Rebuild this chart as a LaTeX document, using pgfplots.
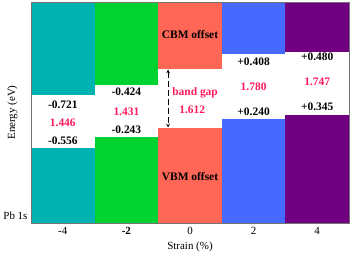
\documentclass[border=0pt]{standalone}
\usepackage{fontspec}
\setmainfont{Liberation Serif}
\usepackage{pgfplots}
\pgfplotsset{compat=1.18}
\definecolor{cA}{RGB}{0,178,178}
\definecolor{cB}{RGB}{0,210,50}
\definecolor{cC}{RGB}{255,102,85}
\definecolor{cD}{RGB}{70,105,255}
\definecolor{cE}{RGB}{112,0,128}
\definecolor{cR}{RGB}{255,25,90}
\begin{document}
\begin{tikzpicture}
\begin{axis}[
  scale only axis, width=318bp, height=221bp,
  xmin=-5, xmax=5, ymin=0, ymax=221,
  axis line style={black!55, line width=0.8pt},
  xtick={-4,-2,0,2,4},
  xticklabels={-4,\textbf{-2},0,2,4},
  ytick={7}, yticklabels={Pb 1s},
  major tick length=0pt,
  tick label style={font=\fontsize{11}{12}\selectfont},
  xticklabel style={yshift=-1bp},
  xlabel={Strain (\%)}, ylabel={Energy (eV)},
  label style={font=\fontsize{11}{12}\selectfont},
  xlabel style={at={(axis description cs:0.5,-0.11)}, anchor=center},
  ylabel style={at={(axis description cs:-0.058,0.5)}, anchor=center},
  clip=false,
]
% lower (VBM) bars
\addplot[draw=none, fill=cA] coordinates {(-5,0) (-3,0) (-3,75) (-5,75)} -- cycle;
\addplot[draw=none, fill=cB] coordinates {(-3,0) (-1,0) (-1,86) (-3,86)} -- cycle;
\addplot[draw=none, fill=cC] coordinates {(-1,0) (1,0) (1,95) (-1,95)} -- cycle;
\addplot[draw=none, fill=cD] coordinates {(1,0) (3,0) (3,104) (1,104)} -- cycle;
\addplot[draw=none, fill=cE] coordinates {(3,0) (5,0) (5,108) (3,108)} -- cycle;
% upper (CBM) bars
\addplot[draw=none, fill=cA] coordinates {(-5,221) (-3,221) (-3,128) (-5,128)} -- cycle;
\addplot[draw=none, fill=cB] coordinates {(-3,221) (-1,221) (-1,138) (-3,138)} -- cycle;
\addplot[draw=none, fill=cC] coordinates {(-1,221) (1,221) (1,154) (-1,154)} -- cycle;
\addplot[draw=none, fill=cD] coordinates {(1,221) (3,221) (3,169) (1,169)} -- cycle;
\addplot[draw=none, fill=cE] coordinates {(3,221) (5,221) (5,171) (3,171)} -- cycle;
% labels
\begin{scope}[every node/.style={font=\fontsize{11.5}{12}\selectfont\bfseries}]
\node at (axis cs:-4,118) {-0.721};
\node[text=cR] at (axis cs:-4,100) {1.446};
\node at (axis cs:-4,82) {-0.556};
\node at (axis cs:-2,131) {-0.424};
\node[text=cR] at (axis cs:-2,111) {1.431};
\node at (axis cs:-2,93) {-0.243};
\node at (axis cs:0,188) {CBM offset};
\node at (axis cs:0,46) {VBM offset};
\node[text=cR] at (axis cs:0.16,130) {band gap};
\node[text=cR] at (axis cs:0.07,113) {1.612};
\node at (axis cs:2,161) {+0.408};
\node[text=cR] at (axis cs:2,136) {1.780};
\node at (axis cs:2,111) {+0.240};
\node at (axis cs:4,166) {+0.480};
\node[text=cR] at (axis cs:4,141) {1.747};
\node at (axis cs:4,116) {+0.345};
\end{scope}
\draw[<->, >=stealth, dash pattern=on 6pt off 3pt, line width=0.7pt] (axis cs:-0.69,153.5) -- (axis cs:-0.69,95.5);
\draw[black!55, line width=0.8pt] (axis cs:-5,0) rectangle (axis cs:5,221);
\end{axis}
\pgfresetboundingbox
\path[use as bounding box] (current axis.south west) ++(-31bp,-31bp) rectangle ++(350bp,254bp);
\end{tikzpicture}
\end{document}
